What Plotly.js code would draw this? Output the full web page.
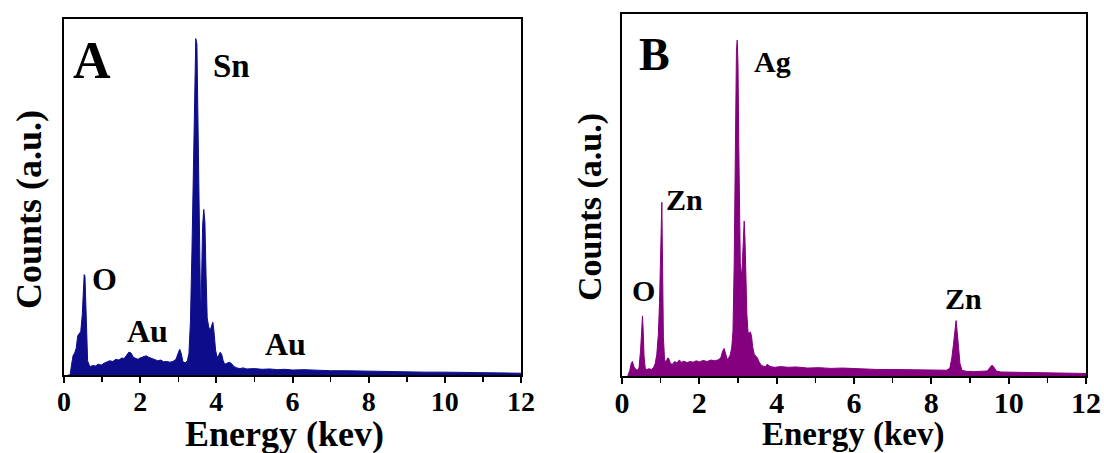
<!DOCTYPE html>
<html>
<head>
<meta charset="utf-8">
<script src="https://cdn.plot.ly/plotly-3.0.1.min.js"></script>
<style>html,body{margin:0;padding:0;background:#fff;}#chart{width:1104px;height:453px;}</style>
</head>
<body>
<div id="chart"></div>
<script>
// Panel A (SnO2/Au) EDS spectrum
const energyA = [0.10,0.16,0.20,0.24,0.28,0.32,0.36,0.40,0.44,0.48,0.51,0.53,0.55,0.57,0.59,0.62,0.66,0.70,0.76,0.82,0.90,0.98,1.05,1.12,1.20,1.28,1.36,1.44,1.52,1.58,1.64,1.70,1.76,1.82,1.88,1.94,2.00,2.08,2.16,2.22,2.30,2.38,2.46,2.54,2.62,2.70,2.78,2.86,2.94,3.00,3.04,3.08,3.12,3.18,3.24,3.28,3.32,3.36,3.40,3.43,3.46,3.49,3.52,3.55,3.57,3.59,3.61,3.64,3.67,3.70,3.73,3.76,3.80,3.84,3.88,3.91,3.94,3.98,4.02,4.06,4.10,4.14,4.18,4.22,4.28,4.34,4.40,4.46,4.54,4.62,4.70,4.80,5.0,5.2,5.4,5.6,5.8,6.0,6.3,6.6,7.0,7.4,7.8,8.2,8.6,9.0,9.5,10.0,10.5,11.0,11.5,12.0];
const countsA = [0,0,30,55,62,75,110,118,122,170,240,282,278,200,90,40,28,24,27,25,30,28,33,36,40,38,44,42,48,46,54,64,62,50,47,44,48,52,54,50,46,43,40,42,37,38,36,38,44,62,72,60,38,34,40,60,150,350,620,860,945,930,700,350,180,150,250,420,465,430,280,160,135,125,140,148,120,70,50,55,64,58,40,30,33,36,32,24,20,18,20,17,18,16,17,15,16,14,15,13,12,12,11,10,10,9,8,8,7,6,6,5];

// Panel B (ZnO/Ag) EDS spectrum
const energyB = [0.15,0.20,0.24,0.27,0.31,0.36,0.40,0.44,0.48,0.51,0.53,0.55,0.57,0.60,0.64,0.70,0.76,0.82,0.86,0.90,0.94,0.97,0.99,1.01,1.03,1.05,1.07,1.10,1.14,1.18,1.21,1.25,1.30,1.36,1.42,1.48,1.54,1.60,1.68,1.76,1.84,1.92,2.00,2.10,2.20,2.30,2.40,2.50,2.56,2.60,2.64,2.68,2.72,2.76,2.80,2.84,2.87,2.90,2.92,2.94,2.96,2.98,3.00,3.02,3.04,3.06,3.08,3.10,3.12,3.14,3.16,3.18,3.20,3.23,3.26,3.29,3.32,3.35,3.38,3.42,3.46,3.50,3.55,3.60,3.66,3.72,3.76,3.80,3.88,3.96,4.1,4.3,4.5,4.8,5.1,5.4,5.7,6.0,6.3,6.6,7.0,7.4,7.8,8.2,8.40,8.48,8.53,8.57,8.61,8.64,8.67,8.70,8.74,8.79,8.9,9.1,9.3,9.45,9.52,9.57,9.62,9.68,9.8,10.2,10.6,11.0,11.5,12.0];
const countsB = [0,15,35,40,25,18,16,22,70,150,166,120,55,22,18,20,18,24,35,60,115,200,330,470,480,300,110,45,38,50,48,35,32,40,36,44,38,41,37,40,38,42,39,43,40,44,42,45,52,68,76,62,46,50,58,80,125,300,560,780,900,928,860,640,420,310,290,280,330,410,428,380,280,170,120,118,122,110,80,60,55,50,38,30,27,26,33,28,25,24,26,24,25,22,23,21,22,20,19,18,18,17,16,15,16,22,50,85,130,153,120,75,35,16,13,12,12,14,24,30,24,14,11,10,9,8,8,7];

const tickVals = [0,2,4,6,8,10,12];
const tickText = ['0','2','4','6','8','10','12'];
const labelsA = ['A','Sn','O','Au','Au'];
const labelsB = ['B','Ag','Zn','O','Zn'];
const xTitle = 'Energy (kev)';
const yTitle = 'Counts (a.u.)';

const W = 1104, H = 453;
const px = x => x / W;
const py = y => (H - y) / H;
const serif = 'Liberation Serif, Times New Roman, serif';

const colorA = '#0d0d8c';
const colorB = '#84007f';

const traces = [
  {x: energyA, y: countsA, type: 'scatter', mode: 'lines', fill: 'tozeroy',
   line: {color: colorA, width: 1}, fillcolor: colorA, xaxis: 'x', yaxis: 'y', hoverinfo: 'skip'},
  {x: energyB, y: countsB, type: 'scatter', mode: 'lines', fill: 'tozeroy',
   line: {color: colorB, width: 1}, fillcolor: colorB, xaxis: 'x2', yaxis: 'y2', hoverinfo: 'skip'}
];

function xAxis(domain, anchor, fs, standoff) {
  return {
    domain: domain, anchor: anchor, range: [0, 12],
    tickmode: 'array',
    tickvals: tickVals, ticktext: tickText.map(t => '<b>' + t + '</b>'),
    ticks: 'outside', ticklen: 6, tickwidth: 2, tickcolor: '#000',
    ticklabelstandoff: standoff,
    minor: {dtick: 1, tick0: 0, ticks: 'outside', ticklen: 5, tickwidth: 1.5, tickcolor: '#000'},
    tickfont: {family: serif, size: fs, color: '#000'},
    showline: true, linecolor: '#000', linewidth: 2, mirror: true,
    showgrid: false, zeroline: false, fixedrange: true
  };
}
function yAxis(domain, anchor) {
  return {
    domain: domain, anchor: anchor, range: [0, 1000],
    showticklabels: false, ticks: '',
    showline: true, linecolor: '#000', linewidth: 2, mirror: true,
    showgrid: false, zeroline: false, fixedrange: true
  };
}

function ann(text, x, y, size, angle) {
  const a = {text: '<b>' + text + '</b>', xref: 'paper', yref: 'paper',
    x: px(x), y: py(y), xanchor: 'center', yanchor: 'middle', showarrow: false,
    font: {family: serif, size: size, color: '#000'}};
  if (angle) a.textangle = angle;
  return a;
}

const annotations = [
  ann(labelsA[0], 92, 60, 52),
  ann(labelsA[1], 231, 66, 33),
  ann(labelsA[2], 104, 279, 32),
  ann(labelsA[3], 147, 331, 32),
  ann(labelsA[4], 285, 344, 32),
  ann(xTitle, 284, 434, 36),
  ann(yTitle, 29, 210, 36, -90),
  ann(labelsB[0], 654, 55, 46),
  ann(labelsB[1], 772, 61, 30),
  ann(labelsB[2], 684, 199, 30),
  ann(labelsB[3], 643, 290, 30),
  ann(labelsB[4], 963, 298, 30),
  ann(xTitle, 853, 434, 33),
  ann(yTitle, 590, 207, 34, -90)
];

const layout = {
  width: W, height: H,
  margin: {l: 0, r: 0, t: 0, b: 0},
  font: {family: serif, color: '#000', size: 26},
  paper_bgcolor: '#fff', plot_bgcolor: '#fff',
  showlegend: false,
  xaxis: xAxis([px(64), px(521)], 'y', 28, -6),
  yaxis: yAxis([py(375), py(19)], 'x'),
  xaxis2: xAxis([px(622), px(1086)], 'y2', 30, -7),
  yaxis2: yAxis([py(376), py(14)], 'x2'),
  annotations: annotations
};

Plotly.newPlot('chart', traces, layout, {staticPlot: true, displayModeBar: false});
</script>
</body>
</html>
